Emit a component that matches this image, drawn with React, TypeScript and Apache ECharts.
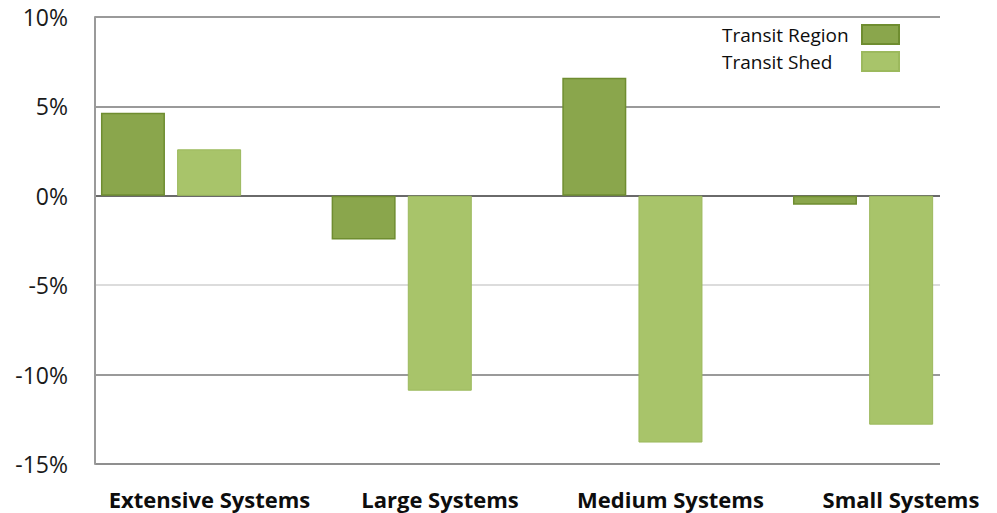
import React, { useEffect, useRef } from "react";
import * as echarts from "echarts";

const categories = ["Extensive Systems", "Large Systems", "Medium Systems", "Small Systems"];
const transitRegion = [4.65, -2.45, 6.6, -0.5];
const transitShed = [2.6, -10.9, -13.8, -12.8];
const seriesNames = ["Transit Region", "Transit Shed"];
const yMin = -15;
const yMax = 10;
const yStep = 5;

const FONT = "'Open Sans', 'Noto Sans', sans-serif";

export default function App() {
  const ref = useRef<HTMLDivElement>(null);
  useEffect(() => {
    if (!ref.current) return;
    const chart = echarts.init(ref.current, undefined, { renderer: "svg" });
    const option = {
      animation: false,
      backgroundColor: "#ffffff",
      textStyle: { fontFamily: FONT },
      grid: [
        { left: 95, right: 57, top: 17, height: 447, containLabel: false },
        { left: 55.7, width: 922.7, top: 17, height: 447, containLabel: false },
        { left: 209.5, width: 691.5, top: 17, height: 447, containLabel: false },
      ],
      xAxis: [
        {
          gridIndex: 0,
          type: "category",
          data: categories,
          show: true,
          axisLine: { show: false },
          axisTick: { show: false },
          axisLabel: { show: false },
          splitLine: { show: false },
        },
        {
          gridIndex: 1,
          type: "category",
          data: categories,
          axisLine: { show: false },
          axisTick: { show: false },
          splitLine: { show: false },
          axisLabel: { show: false },
        },
        {
          gridIndex: 2,
          type: "category",
          data: categories,
          boundaryGap: false,
          axisLine: { show: false },
          axisTick: { show: false },
          splitLine: { show: false },
          axisLabel: {
            interval: 0,
            margin: 24,
            fontFamily: FONT,
            fontSize: 22,
            fontWeight: "bold",
            color: "#0d0d0d",
          },
        },
      ],
      yAxis: [
        {
          gridIndex: 0,
          type: "value",
          min: yMin,
          max: yMax,
          interval: yStep,
          axisLine: { show: true, lineStyle: { color: "#9a9a9a", width: 2 } },
          axisTick: { show: false },
          axisLabel: {
            margin: 27,
            formatter: "{value}%",
            fontFamily: FONT,
            fontSize: 23,
            color: "#1a1a1a",
          },
          splitLine: {
            show: true,
            lineStyle: {
              color: ["#8f8f8f", "#9a9a9a", "#dcdcdc", "#6a6a6a", "#9a9a9a", "#9a9a9a"],
              width: 2,
            },
          },
        },
        {
          gridIndex: 1,
          type: "value",
          min: yMin,
          max: yMax,
          interval: yStep,
          show: false,
          splitLine: { show: false },
        },
        {
          gridIndex: 2,
          type: "value",
          min: yMin,
          max: yMax,
          interval: yStep,
          show: false,
          splitLine: { show: false },
        },
      ],
      legend: {
        orient: "vertical",
        right: 97,
        top: 24,
        padding: 0,
        align: "right",
        icon: "rect",
        itemWidth: 37,
        itemHeight: 19,
        itemGap: 6,
        data: seriesNames,
        formatter: (n: string) => `{a|${n}}`,
        textStyle: {
          rich: {
            a: {
              width: 135,
              align: "left",
              fontFamily: FONT,
              fontSize: 19,
              lineHeight: 19,
              color: "#0d0d0d",
            },
          },
        },
      },
      series: [
        {
          name: seriesNames[0],
          type: "bar",
          xAxisIndex: 1,
          yAxisIndex: 1,
          data: transitRegion,
          barWidth: 64,
          barGap: "19%",
          itemStyle: { color: "#8aa64c", borderColor: "#6f8d30", borderWidth: 1.5 },
        },
        {
          name: seriesNames[1],
          type: "bar",
          xAxisIndex: 1,
          yAxisIndex: 1,
          data: transitShed,
          barWidth: 64,
          itemStyle: { color: "#a8c46a", borderColor: "#9cb95d", borderWidth: 1 },
        },
      ],
    };
    chart.setOption(option);
    return () => chart.dispose();
  }, []);
  return (
    <div
      ref={ref}
      style={{ position: "fixed", left: 0, top: 0, width: 997, height: 513 }}
    />
  );
}
